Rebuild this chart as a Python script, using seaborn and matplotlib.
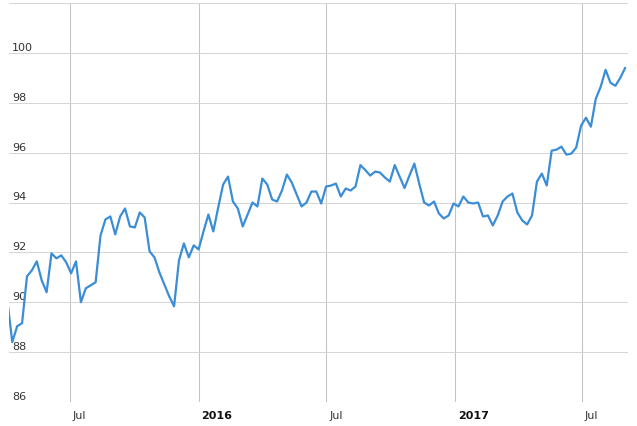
import pandas as pd
import seaborn as sns
import matplotlib.pyplot as plt
import matplotlib.transforms as mtransforms

# --- data (weekly) ---
first_date = '2015-04-03'
values = [
    90.07,
    88.40, 89.04, 89.16, 91.04, 91.28, 91.64, 90.88, 90.40, 91.96, 91.76,
    91.88, 91.60, 91.16, 91.64, 90.00, 90.56, 90.68, 90.80, 92.68, 93.32,
    93.44, 92.72, 93.44, 93.76, 93.04, 93.00, 93.60, 93.40, 92.04, 91.80,
    91.20, 90.72, 90.24, 89.84, 91.68, 92.36, 91.80, 92.28, 92.12, 92.84,
    93.52, 92.84, 93.80, 94.72, 95.04, 94.04, 93.76, 93.04, 93.52, 94.00,
    93.84, 94.96, 94.72, 94.12, 94.04, 94.48, 95.12, 94.80, 94.32, 93.84,
    94.00, 94.44, 94.44, 93.96, 94.64, 94.68, 94.76, 94.24, 94.56, 94.48,
    94.64, 95.50, 95.30, 95.08, 95.24, 95.20, 95.00, 94.84, 95.50, 95.04,
    94.58, 95.08, 95.56, 94.75, 94.00, 93.88, 94.04, 93.56, 93.36, 93.48,
    93.96, 93.84, 94.24, 94.00, 93.96, 94.00, 93.44, 93.48, 93.08, 93.48,
    94.04, 94.24, 94.36, 93.60, 93.28, 93.12, 93.48, 94.84, 95.16, 94.68,
    96.08, 96.12, 96.24, 95.92, 95.96, 96.20, 97.08, 97.40, 97.04, 98.16,
    98.64, 99.32, 98.80, 98.68, 99.00, 99.40,
]
dates = pd.date_range(first_date, periods=len(values), freq='7D')
df = pd.DataFrame({'date': dates, 'value': values})

y_ticks = [86, 88, 90, 92, 94, 96, 98, 100, 102]
y_labels = ['86', '88', '90', '92', '94', '96', '98', '100', '']
x_ticks = pd.to_datetime(['2015-07-01', '2016-01-01', '2016-07-01', '2017-01-01', '2017-07-01'])
x_labels = ['Jul', '2016', 'Jul', '2017', 'Jul']

sns.set_style('white')
plt.rcParams['font.family'] = ['DejaVu Sans']

fig = plt.figure(figsize=(6.37, 4.27), dpi=100)
ax = fig.add_axes([9 / 637, 24 / 427, 619 / 637, 399 / 427])

sns.lineplot(data=df, x='date', y='value', ax=ax, color='#3a8dd6', linewidth=1.6)

ax.set_xlim(pd.Timestamp('2015-04-05 08:00'), pd.Timestamp('2017-09-05'))
ax.set_ylim(86, 102)

ax.set_yticks(y_ticks)
ax.set_yticklabels(y_labels)
ax.set_xticks(x_ticks)
ax.set_xticklabels(x_labels)

ax.grid(True, axis='y', color='#d6d6d6', linewidth=0.75)
ax.grid(True, axis='x', color='#c4c4c4', linewidth=0.75)
ax.set_axisbelow(True)
for side in ['left', 'right', 'top', 'bottom']:
    ax.spines[side].set_visible(False)

ax.set_xlabel('')
ax.set_ylabel('')

# y labels sit inside the plot, above their gridline
ax.tick_params(axis='y', length=0, pad=0, labelsize=8, labelcolor='#333333')
for lab in ax.get_yticklabels():
    lab.set_horizontalalignment('left')
    lab.set_verticalalignment('bottom')
    lab.set_transform(lab.get_transform() +
                      mtransforms.ScaledTranslation(3 / 100, 1 / 100, fig.dpi_scale_trans))

# x labels start just right of their gridline
ax.tick_params(axis='x', length=0, pad=6, labelsize=8, labelcolor='#333333')
for lab in ax.get_xticklabels():
    lab.set_horizontalalignment('left')
    if lab.get_text().isdigit():
        lab.set_fontweight('bold')
        lab.set_color('#111111')
    lab.set_transform(lab.get_transform() +
                      mtransforms.ScaledTranslation(3 / 100, 0, fig.dpi_scale_trans))

plt.savefig('out.png', dpi=100)
